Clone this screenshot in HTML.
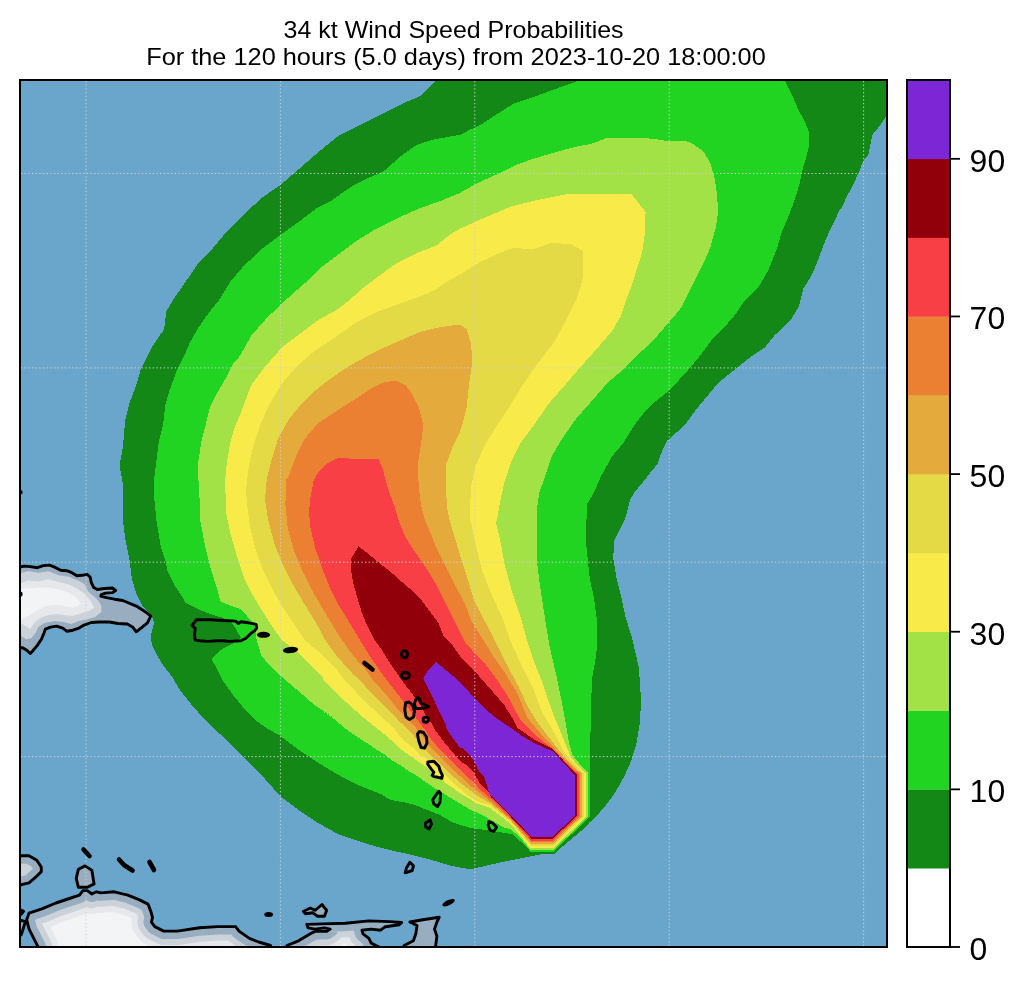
<!DOCTYPE html>
<html><head><meta charset="utf-8"><style>
html,body{margin:0;padding:0;background:#fff;width:1024px;height:984px;overflow:hidden;font-family:"Liberation Sans",sans-serif;-webkit-font-smoothing:antialiased;}
text{will-change:transform;}
</style></head><body>
<svg width="1024" height="984" viewBox="0 0 1024 984" style="position:absolute;left:0;top:0"><defs><clipPath id="m"><rect x="20" y="80" width="867" height="867"/></clipPath><clipPath id="c0"><polygon points="-30.0,567.1 20.0,567.1 24.1,566.1 30.2,566.6 37.3,567.7 43.4,565.6 49.5,565.1 54.6,567.1 60.7,570.2 66.8,570.7 71.9,572.7 76.9,575.8 82.0,575.3 87.1,574.3 90.2,577.3 91.2,582.4 93.7,587.5 97.3,589.5 104.4,588.5 112.5,588.0 115.6,590.5 112.5,592.6 105.4,593.1 101.3,594.6 100.8,596.1 106.4,597.6 114.5,599.2 122.8,600.5 136.3,606.1 145.2,611.7 150.8,616.1 147.4,622.8 141.9,627.3 136.3,631.8 132.9,627.3 127.3,624.0 118.0,623.5 109.5,622.0 99.3,622.0 91.2,622.5 84.1,625.1 79.0,628.1 72.9,630.2 66.8,631.2 62.7,628.1 56.6,626.1 50.5,627.1 45.4,629.1 43.9,633.2 41.4,639.3 37.3,645.4 32.2,651.5 30.2,653.5 27.1,650.5 23.1,648.0 20.0,647.4 -30.0,647.4"/></clipPath><clipPath id="c1"><polygon points="38.0,946.8 33.5,937.8 29.0,928.8 26.7,919.8 29.0,913.1 42.5,908.6 55.9,903.0 69.4,898.5 79.5,895.1 82.9,890.6 87.4,890.6 91.9,894.0 96.4,891.8 100.9,892.9 114.3,891.8 127.8,895.1 139.0,899.6 148.0,904.1 151.4,913.1 152.5,917.6 151.4,922.1 154.8,926.6 163.7,931.1 177.2,931.1 199.7,927.7 217.6,926.6 235.6,926.6 239.0,931.1 249.4,938.4 258.7,942.0 270.5,945.5 275.0,1000.0 40.0,1000.0"/></clipPath><clipPath id="c2"><polygon points="283.0,1000.0 286.9,945.5 298.6,940.8 310.3,933.8 315.0,931.4 326.7,931.4 330.2,929.1 324.4,927.9 315.0,929.1 308.0,927.9 306.8,924.4 322.0,923.9 345.5,923.2 368.9,920.9 390.0,921.6 401.7,922.5 399.4,924.8 385.3,926.7 380.6,930.2 371.2,929.1 361.9,930.2 363.0,933.8 368.9,938.4 371.2,943.1 375.9,945.5 378.3,946.6 380.0,1000.0"/></clipPath><clipPath id="c3"><polygon points="409.9,922.0 422.8,919.7 439.2,917.3 436.9,922.0 434.5,929.1 436.9,936.1 435.7,945.5 436.0,1000.0 404.0,1000.0 404.1,945.5 413.4,940.8 415.8,933.8 417.0,925.5"/></clipPath><clipPath id="c4"><polygon points="-30.0,855.8 20.0,855.8 29.0,855.8 36.8,860.3 41.3,867.1 41.3,871.6 35.7,877.2 29.0,882.8 20.0,885.0 -30.0,885.0"/></clipPath><clipPath id="c5"><polygon points="78.4,869.3 85.1,865.9 91.9,870.4 94.1,883.9 87.4,887.3 78.4,887.3 76.2,878.3"/></clipPath><clipPath id="c6"><polygon points="303.3,911.5 310.3,908.0 315.0,910.3 322.0,904.5 326.7,910.3 324.4,916.2 317.3,916.2 312.7,912.7 305.6,913.8"/></clipPath><clipPath id="c7"><polygon points="-30.0,920.5 21.1,920.5 25.4,921.7 24.0,926.0 22.5,931.0 21.1,935.1 -30.0,935.1"/></clipPath><clipPath id="c8"><polygon points="-30.0,910.1 21.1,910.1 23.5,911.3 21.1,914.4 -30.0,914.4"/></clipPath></defs><g clip-path="url(#m)"><rect x="0" y="0" width="1024" height="984" fill="#6aa6cc"/><polygon points="-30.0,567.1 20.0,567.1 24.1,566.1 30.2,566.6 37.3,567.7 43.4,565.6 49.5,565.1 54.6,567.1 60.7,570.2 66.8,570.7 71.9,572.7 76.9,575.8 82.0,575.3 87.1,574.3 90.2,577.3 91.2,582.4 93.7,587.5 97.3,589.5 104.4,588.5 112.5,588.0 115.6,590.5 112.5,592.6 105.4,593.1 101.3,594.6 100.8,596.1 106.4,597.6 114.5,599.2 122.8,600.5 136.3,606.1 145.2,611.7 150.8,616.1 147.4,622.8 141.9,627.3 136.3,631.8 132.9,627.3 127.3,624.0 118.0,623.5 109.5,622.0 99.3,622.0 91.2,622.5 84.1,625.1 79.0,628.1 72.9,630.2 66.8,631.2 62.7,628.1 56.6,626.1 50.5,627.1 45.4,629.1 43.9,633.2 41.4,639.3 37.3,645.4 32.2,651.5 30.2,653.5 27.1,650.5 23.1,648.0 20.0,647.4 -30.0,647.4" fill="#98adc0"/><polygon points="-30.0,573.2 20.0,573.2 28.2,571.2 38.3,572.7 48.5,571.2 58.7,575.3 68.8,576.8 79.0,580.9 85.1,584.4 88.1,591.5 94.2,596.6 98.3,600.7 101.3,605.8 101.3,611.9 95.2,616.9 88.1,619.0 79.0,621.0 70.8,624.1 63.7,622.0 54.6,621.0 44.4,623.0 38.3,627.1 35.3,633.2 31.2,638.3 26.1,639.3 20.0,635.2 -30.0,635.2" fill="#ccd2da"/><polygon points="-30.0,583.4 20.0,583.4 28.2,580.4 38.3,581.4 48.5,579.3 58.7,581.9 68.8,584.4 77.0,588.5 83.0,592.6 87.1,596.6 91.2,601.7 94.2,607.8 89.1,610.8 82.0,612.9 72.9,615.9 64.7,614.9 56.6,613.9 48.5,614.9 40.4,618.0 34.3,623.0 30.2,629.1 24.1,625.1 20.0,623.0 -30.0,623.0" fill="#e6e8eb"/><polygon points="-30.0,588.5 20.0,588.5 28.2,588.5 38.3,587.5 48.5,587.5 58.7,589.5 68.8,592.6 74.9,596.6 79.0,600.7 81.0,604.7 71.9,607.8 62.7,605.8 53.6,604.7 44.4,606.8 36.3,610.8 28.2,615.9 24.1,618.0 20.0,619.0 -30.0,619.0" fill="#f3f4f6"/><g clip-path="url(#c1)"><polygon points="38.0,946.8 33.5,937.8 29.0,928.8 26.7,919.8 29.0,913.1 42.5,908.6 55.9,903.0 69.4,898.5 79.5,895.1 82.9,890.6 87.4,890.6 91.9,894.0 96.4,891.8 100.9,892.9 114.3,891.8 127.8,895.1 139.0,899.6 148.0,904.1 151.4,913.1 152.5,917.6 151.4,922.1 154.8,926.6 163.7,931.1 177.2,931.1 199.7,927.7 217.6,926.6 235.6,926.6 239.0,931.1 249.4,938.4 258.7,942.0 270.5,945.5 275.0,1000.0 40.0,1000.0" fill="#f3f4f6"/><polygon points="38.0,946.8 33.5,937.8 29.0,928.8 26.7,919.8 29.0,913.1 42.5,908.6 55.9,903.0 69.4,898.5 79.5,895.1 82.9,890.6 87.4,890.6 91.9,894.0 96.4,891.8 100.9,892.9 114.3,891.8 127.8,895.1 139.0,899.6 148.0,904.1 151.4,913.1 152.5,917.6 151.4,922.1 154.8,926.6 163.7,931.1 177.2,931.1 199.7,927.7 217.6,926.6 235.6,926.6 239.0,931.1 249.4,938.4 258.7,942.0 270.5,945.5 275.0,1000.0 40.0,1000.0" fill="none" stroke="#e6e8eb" stroke-width="40" stroke-linejoin="round"/><polygon points="38.0,946.8 33.5,937.8 29.0,928.8 26.7,919.8 29.0,913.1 42.5,908.6 55.9,903.0 69.4,898.5 79.5,895.1 82.9,890.6 87.4,890.6 91.9,894.0 96.4,891.8 100.9,892.9 114.3,891.8 127.8,895.1 139.0,899.6 148.0,904.1 151.4,913.1 152.5,917.6 151.4,922.1 154.8,926.6 163.7,931.1 177.2,931.1 199.7,927.7 217.6,926.6 235.6,926.6 239.0,931.1 249.4,938.4 258.7,942.0 270.5,945.5 275.0,1000.0 40.0,1000.0" fill="none" stroke="#ccd2da" stroke-width="28" stroke-linejoin="round"/><polygon points="38.0,946.8 33.5,937.8 29.0,928.8 26.7,919.8 29.0,913.1 42.5,908.6 55.9,903.0 69.4,898.5 79.5,895.1 82.9,890.6 87.4,890.6 91.9,894.0 96.4,891.8 100.9,892.9 114.3,891.8 127.8,895.1 139.0,899.6 148.0,904.1 151.4,913.1 152.5,917.6 151.4,922.1 154.8,926.6 163.7,931.1 177.2,931.1 199.7,927.7 217.6,926.6 235.6,926.6 239.0,931.1 249.4,938.4 258.7,942.0 270.5,945.5 275.0,1000.0 40.0,1000.0" fill="none" stroke="#98adc0" stroke-width="16" stroke-linejoin="round"/></g><g clip-path="url(#c2)"><polygon points="283.0,1000.0 286.9,945.5 298.6,940.8 310.3,933.8 315.0,931.4 326.7,931.4 330.2,929.1 324.4,927.9 315.0,929.1 308.0,927.9 306.8,924.4 322.0,923.9 345.5,923.2 368.9,920.9 390.0,921.6 401.7,922.5 399.4,924.8 385.3,926.7 380.6,930.2 371.2,929.1 361.9,930.2 363.0,933.8 368.9,938.4 371.2,943.1 375.9,945.5 378.3,946.6 380.0,1000.0" fill="#f3f4f6"/><polygon points="283.0,1000.0 286.9,945.5 298.6,940.8 310.3,933.8 315.0,931.4 326.7,931.4 330.2,929.1 324.4,927.9 315.0,929.1 308.0,927.9 306.8,924.4 322.0,923.9 345.5,923.2 368.9,920.9 390.0,921.6 401.7,922.5 399.4,924.8 385.3,926.7 380.6,930.2 371.2,929.1 361.9,930.2 363.0,933.8 368.9,938.4 371.2,943.1 375.9,945.5 378.3,946.6 380.0,1000.0" fill="none" stroke="#e6e8eb" stroke-width="40" stroke-linejoin="round"/><polygon points="283.0,1000.0 286.9,945.5 298.6,940.8 310.3,933.8 315.0,931.4 326.7,931.4 330.2,929.1 324.4,927.9 315.0,929.1 308.0,927.9 306.8,924.4 322.0,923.9 345.5,923.2 368.9,920.9 390.0,921.6 401.7,922.5 399.4,924.8 385.3,926.7 380.6,930.2 371.2,929.1 361.9,930.2 363.0,933.8 368.9,938.4 371.2,943.1 375.9,945.5 378.3,946.6 380.0,1000.0" fill="none" stroke="#ccd2da" stroke-width="28" stroke-linejoin="round"/><polygon points="283.0,1000.0 286.9,945.5 298.6,940.8 310.3,933.8 315.0,931.4 326.7,931.4 330.2,929.1 324.4,927.9 315.0,929.1 308.0,927.9 306.8,924.4 322.0,923.9 345.5,923.2 368.9,920.9 390.0,921.6 401.7,922.5 399.4,924.8 385.3,926.7 380.6,930.2 371.2,929.1 361.9,930.2 363.0,933.8 368.9,938.4 371.2,943.1 375.9,945.5 378.3,946.6 380.0,1000.0" fill="none" stroke="#98adc0" stroke-width="16" stroke-linejoin="round"/></g><polygon points="409.9,922.0 422.8,919.7 439.2,917.3 436.9,922.0 434.5,929.1 436.9,936.1 435.7,945.5 436.0,1000.0 404.0,1000.0 404.1,945.5 413.4,940.8 415.8,933.8 417.0,925.5" fill="#98adc0"/><g clip-path="url(#c4)"><polygon points="-30.0,855.8 20.0,855.8 29.0,855.8 36.8,860.3 41.3,867.1 41.3,871.6 35.7,877.2 29.0,882.8 20.0,885.0 -30.0,885.0" fill="#f3f4f6"/><polygon points="-30.0,855.8 20.0,855.8 29.0,855.8 36.8,860.3 41.3,867.1 41.3,871.6 35.7,877.2 29.0,882.8 20.0,885.0 -30.0,885.0" fill="none" stroke="#e6e8eb" stroke-width="40" stroke-linejoin="round"/><polygon points="-30.0,855.8 20.0,855.8 29.0,855.8 36.8,860.3 41.3,867.1 41.3,871.6 35.7,877.2 29.0,882.8 20.0,885.0 -30.0,885.0" fill="none" stroke="#ccd2da" stroke-width="28" stroke-linejoin="round"/><polygon points="-30.0,855.8 20.0,855.8 29.0,855.8 36.8,860.3 41.3,867.1 41.3,871.6 35.7,877.2 29.0,882.8 20.0,885.0 -30.0,885.0" fill="none" stroke="#98adc0" stroke-width="16" stroke-linejoin="round"/></g><polygon points="78.4,869.3 85.1,865.9 91.9,870.4 94.1,883.9 87.4,887.3 78.4,887.3 76.2,878.3" fill="#98adc0"/><g clip-path="url(#c6)"><polygon points="303.3,911.5 310.3,908.0 315.0,910.3 322.0,904.5 326.7,910.3 324.4,916.2 317.3,916.2 312.7,912.7 305.6,913.8" fill="#f3f4f6"/><polygon points="303.3,911.5 310.3,908.0 315.0,910.3 322.0,904.5 326.7,910.3 324.4,916.2 317.3,916.2 312.7,912.7 305.6,913.8" fill="none" stroke="#e6e8eb" stroke-width="40" stroke-linejoin="round"/><polygon points="303.3,911.5 310.3,908.0 315.0,910.3 322.0,904.5 326.7,910.3 324.4,916.2 317.3,916.2 312.7,912.7 305.6,913.8" fill="none" stroke="#ccd2da" stroke-width="28" stroke-linejoin="round"/><polygon points="303.3,911.5 310.3,908.0 315.0,910.3 322.0,904.5 326.7,910.3 324.4,916.2 317.3,916.2 312.7,912.7 305.6,913.8" fill="none" stroke="#98adc0" stroke-width="16" stroke-linejoin="round"/></g><polygon points="-30.0,920.5 21.1,920.5 25.4,921.7 24.0,926.0 22.5,931.0 21.1,935.1 -30.0,935.1" fill="#98adc0"/><polygon points="-30.0,910.1 21.1,910.1 23.5,911.3 21.1,914.4 -30.0,914.4" fill="#98adc0"/><polygon points="436.7,80.0 890.0,80.0 890.0,116.3 886.2,116.3 878.9,126.9 872.3,134.8 869.7,148.0 868.3,154.6 863.0,161.2 859.1,171.8 852.5,186.3 845.9,198.2 841.9,208.0 839.9,209.7 831.0,227.6 824.3,243.2 817.6,261.1 813.1,272.3 807.5,282.0 803.2,288.9 798.7,306.8 792.0,318.0 783.1,327.0 774.1,335.9 765.2,347.1 751.8,356.0 740.6,365.0 729.4,373.9 718.3,382.8 707.1,396.3 695.9,409.7 684.7,425.3 666.8,441.0 662.4,449.9 657.9,463.3 648.9,474.5 640.0,485.7 634.4,492.3 630.0,500.0 625.4,517.9 614.3,540.2 613.2,558.1 616.5,578.3 621.0,596.1 625.4,616.3 632.2,638.6 638.9,667.7 641.0,700.0 640.0,722.5 636.5,743.2 631.4,760.5 624.4,776.0 615.8,791.6 607.2,803.7 598.9,813.3 589.5,822.5 582.4,829.8 571.5,838.9 560.5,848.0 555.0,853.5 540.4,854.5 517.3,859.0 500.0,862.5 470.6,869.3 450.9,865.8 427.5,858.8 408.8,854.1 400.0,852.4 376.8,846.8 358.9,841.2 338.7,834.5 318.6,823.3 298.5,809.9 280.6,796.5 262.7,776.4 242.6,756.3 224.7,738.4 209.1,723.8 193.4,707.1 180.0,690.3 172.0,676.5 163.1,665.3 156.4,654.1 151.9,645.2 150.8,636.3 154.1,622.8 151.9,616.1 141.9,605.0 136.3,593.8 131.8,578.1 129.6,560.2 125.1,537.9 122.8,520.0 122.8,501.2 122.8,483.3 119.5,465.4 122.8,447.6 124.0,434.1 125.1,420.7 129.6,402.8 136.3,385.0 140.7,369.3 145.2,360.4 151.9,347.0 164.2,329.1 166.4,311.2 173.0,300.0 186.0,281.2 198.3,263.3 210.6,251.0 226.3,232.0 240.0,218.6 246.4,211.9 262.4,197.4 280.2,185.1 295.9,171.7 313.8,156.0 327.2,144.8 338.4,135.9 351.8,129.2 365.2,122.5 387.6,111.3 405.4,102.4 421.1,95.7 432.3,84.5" fill="#138816" shape-rendering="crispEdges"/><polygon points="580.7,80.0 783.8,80.0 786.4,83.3 791.7,93.9 798.3,109.7 804.9,121.6 809.5,133.5 808.9,146.7 806.2,157.3 802.3,170.5 799.6,183.7 795.7,196.9 791.7,208.0 788.5,216.4 781.8,232.0 777.3,247.7 768.4,270.0 759.4,285.7 754.0,291.2 745.1,300.1 736.1,313.5 722.7,329.2 711.5,340.4 698.1,358.3 684.7,373.9 669.1,390.7 653.4,403.0 644.5,411.9 634.4,425.2 623.2,443.1 612.0,456.5 600.9,476.6 594.1,492.3 587.4,503.5 586.3,522.4 586.3,544.7 589.7,578.3 594.1,598.4 597.5,625.2 596.4,654.3 591.9,678.9 590.8,720.0 590.2,745.0 590.0,772.1 590.0,816.6 553.5,851.9 530.3,851.9 526.9,847.2 518.8,839.9 512.3,834.2 502.5,832.6 486.3,830.2 470.0,827.7 453.4,822.9 438.8,814.4 424.4,808.9 416.3,805.6 408.1,803.2 400.0,801.6 390.0,799.8 381.2,794.3 358.9,785.3 341.0,776.4 318.6,763.0 298.5,749.6 280.6,736.1 265.0,727.2 256.0,720.5 244.8,709.3 233.7,695.9 222.5,680.2 215.8,666.8 211.7,659.2 216.7,653.5 223.1,648.4 233.2,643.3 240.9,638.2 237.0,630.6 232.0,623.0 223.1,617.9 210.4,614.1 197.7,609.0 185.0,602.7 183.2,598.3 174.3,584.8 167.6,571.4 165.3,560.2 160.9,546.8 158.6,533.4 156.4,520.0 154.1,496.8 154.1,478.9 156.4,461.0 158.6,443.1 163.1,425.2 165.3,405.1 169.8,389.4 176.5,371.5 183.2,358.1 189.9,342.5 198.9,326.8 210.0,311.2 219.0,300.0 230.7,281.2 244.1,265.6 262.0,248.8 279.9,235.4 300.0,220.9 317.9,207.4 330.0,201.8 340.6,194.0 354.0,185.1 367.4,178.4 383.1,171.7 401.0,156.0 416.6,144.8 434.5,139.2 441.2,138.1 460.0,134.8 468.9,130.3 482.4,123.6 498.0,113.5 513.7,103.5 527.1,99.0 540.5,94.5 558.4,87.8" fill="#22d422" shape-rendering="crispEdges"/><polygon points="285.8,300.0 289.2,296.9 307.1,281.2 320.5,267.8 338.4,254.4 356.3,241.0 376.4,228.7 396.5,218.6 418.9,208.6 441.2,200.7 460.0,192.9 477.9,182.8 498.0,173.9 515.9,165.0 531.5,159.4 553.9,152.7 574.0,147.1 591.9,143.7 607.6,137.7 621.0,137.7 652.3,138.6 670.2,141.5 685.7,140.8 692.4,143.7 703.5,151.5 710.2,162.7 714.7,178.4 717.0,194.0 718.1,211.9 715.8,227.6 710.2,247.7 703.5,263.3 694.6,281.2 686.8,296.9 680.2,309.1 666.8,324.7 653.4,340.4 636.6,355.9 621.0,371.5 607.6,382.7 594.1,398.4 576.3,418.5 560.6,440.9 551.7,456.5 545.0,476.6 539.4,492.3 537.1,507.9 537.1,529.1 537.1,562.6 540.5,589.4 545.0,618.5 549.4,645.3 556.1,674.4 561.7,701.2 565.1,720.0 569.1,743.2 572.6,755.3 581.2,765.7 588.0,772.5 588.0,816.5 553.4,850.3 530.5,850.3 522.8,840.7 515.5,833.4 510.7,829.5 502.5,826.9 494.4,822.0 486.3,817.2 478.1,813.1 470.7,810.0 465.0,806.5 456.9,801.6 448.8,796.7 440.7,791.8 432.5,786.9 424.4,781.2 416.3,775.5 408.1,770.7 400.0,765.0 391.5,760.0 385.0,754.8 376.9,749.9 368.8,744.2 360.7,739.3 352.5,733.7 344.4,728.0 336.3,720.7 328.1,715.0 320.0,709.7 334.3,718.3 314.2,704.8 296.3,689.2 280.6,675.8 269.4,664.6 261.2,656.0 258.6,645.9 256.1,638.2 256.1,630.6 255.5,624.3 251.0,620.5 240.9,609.0 229.4,605.2 220.5,601.4 216.7,587.1 211.4,571.1 204.9,545.0 200.0,519.0 200.0,505.7 198.9,487.8 197.7,465.4 201.1,443.1 205.6,425.2 210.0,407.3 216.7,393.9 225.7,378.3 232.4,364.8 240.0,355.9 251.2,335.8 266.8,317.9" fill="#a2e246" shape-rendering="crispEdges"/><polygon points="349.6,300.0 363.0,287.9 380.9,274.5 396.5,263.3 418.9,252.2 436.7,245.4 450.2,234.3 460.0,228.7 482.4,218.6 511.4,206.3 533.8,200.7 567.3,194.0 607.6,193.6 631.0,193.6 645.6,211.9 644.5,236.5 642.2,252.2 636.6,270.0 631.0,287.9 626.0,300.0 621.0,315.7 612.0,331.3 596.4,349.2 578.5,369.3 565.1,385.0 549.4,402.8 533.8,425.2 520.4,443.1 511.4,461.0 504.7,481.1 500.2,501.2 496.9,520.0 495.8,522.4 500.2,540.2 504.7,564.8 511.4,589.4 520.4,616.3 527.1,640.9 533.8,661.0 542.7,683.3 551.7,710.0 558.8,727.7 565.7,744.9 570.9,757.0 577.8,765.7 585.9,773.0 585.9,816.4 553.3,848.4 530.6,848.4 510.7,823.7 490.0,808.0 476.4,803.2 470.0,799.1 461.8,794.2 453.7,788.6 445.5,782.8 436.0,775.0 424.4,765.8 416.3,760.1 408.1,754.4 400.0,748.7 394.8,743.4 386.7,736.1 378.5,729.6 370.4,723.1 362.3,716.6 354.1,709.3 346.0,702.0 339.5,696.3 331.4,688.1 323.3,680.0 323.1,678.0 309.7,664.6 296.3,651.2 281.7,640.0 269.9,623.1 261.8,610.1 252.0,593.8 243.9,577.6 237.4,558.0 230.9,535.3 226.0,512.5 225.2,480.0 226.8,463.2 230.2,443.1 234.6,427.4 240.0,415.0 251.2,385.0 264.6,367.1 282.5,347.0 300.4,333.5 318.3,320.1 338.4,308.9" fill="#f8ea48" shape-rendering="crispEdges"/><polygon points="409.9,300.0 418.9,296.9 434.5,290.2 447.9,281.2 460.0,274.5 477.9,263.3 495.8,254.4 513.7,247.7 531.5,249.5 551.7,242.8 571.8,244.3 583.0,251.0 583.0,276.7 579.6,290.2 576.0,300.0 565.1,322.4 553.9,342.5 538.3,362.6 522.6,385.0 509.2,407.3 495.8,427.4 484.6,445.3 475.7,465.4 471.2,485.6 470.1,505.7 470.1,520.0 471.2,522.4 475.7,544.7 482.4,571.5 491.3,593.9 502.5,618.5 511.4,643.1 522.6,667.7 533.8,690.0 542.0,712.0 555.3,734.6 564.0,751.9 572.6,762.2 583.8,773.4 583.8,816.3 553.2,845.9 530.9,845.9 510.7,822.0 490.0,805.0 480.0,802.4 476.4,800.7 470.0,796.7 463.4,791.8 456.9,786.1 450.4,780.4 443.9,773.9 434.0,765.0 424.4,756.8 420.0,755.6 416.3,750.3 408.1,743.8 403.1,740.0 400.0,736.5 394.8,729.6 389.1,723.9 381.8,717.4 375.3,710.9 368.0,704.4 359.8,696.3 352.5,688.1 344.4,680.0 336.5,669.1 320.9,653.4 304.6,640.0 294.3,624.7 284.6,610.1 273.2,590.6 263.4,571.1 255.3,548.3 250.4,528.8 247.2,506.0 246.0,490.0 248.9,465.4 253.4,445.3 260.1,425.2 269.1,405.1 282.5,382.7 295.9,367.1 313.8,351.4 333.9,338.0 356.3,322.4 378.6,311.2" fill="#e4da45" shape-rendering="crispEdges"/><polygon points="460.0,324.6 466.7,329.1 471.2,344.7 472.3,362.6 468.9,385.0 466.7,407.3 462.2,425.2 460.0,431.9 452.4,447.6 445.7,465.4 445.7,487.8 447.5,510.0 449.5,520.0 453.8,534.2 458.1,548.5 462.3,562.7 466.6,575.5 473.4,598.4 484.6,620.7 495.8,643.1 507.0,665.4 518.1,685.6 527.0,705.0 536.3,720.7 546.7,734.6 558.8,750.1 569.1,762.2 582.0,773.7 582.0,816.2 553.1,844.2 531.1,844.2 510.7,820.4 490.0,803.0 480.0,797.5 476.4,795.1 470.0,790.2 463.4,785.3 456.9,779.6 450.4,773.9 446.0,770.0 442.0,765.8 437.1,760.9 432.2,756.4 428.1,752.8 424.1,749.1 417.7,741.0 412.0,733.2 405.5,726.7 400.0,722.3 395.6,717.4 389.1,710.9 381.0,702.8 372.8,694.6 365.5,686.5 359.8,680.0 353.4,674.6 345.2,665.4 336.1,655.2 330.0,647.1 325.2,640.0 315.4,621.5 304.1,603.6 292.7,584.1 282.9,564.6 274.8,545.0 268.3,520.7 265.0,500.0 266.8,478.9 271.3,461.0 278.0,438.6 289.2,418.5 300.4,405.1 313.8,391.7 329.4,379.4 347.3,367.1 365.2,357.0 383.1,348.1 401.0,340.2 418.9,332.4 436.7,327.9 450.2,325.7" fill="#e4aa3c" shape-rendering="crispEdges"/><polygon points="396.5,380.5 405.4,385.0 412.2,393.9 418.9,407.3 423.3,425.2 421.1,443.1 417.7,465.4 418.9,487.8 421.1,505.7 424.9,520.0 431.0,534.2 436.7,548.5 443.8,562.7 450.9,576.9 458.1,591.1 465.2,603.9 471.2,620.7 482.4,638.6 493.5,656.5 504.7,672.2 518.1,694.5 527.5,718.0 541.5,734.6 555.3,749.3 565.7,760.5 580.3,774.1 580.3,816.1 553.0,842.4 531.2,842.4 510.7,819.2 490.0,801.0 480.0,793.0 476.4,790.3 470.7,786.0 465.0,780.5 458.5,774.6 453.3,770.0 450.9,767.4 446.0,762.5 441.1,757.6 436.3,752.8 431.4,747.9 427.3,743.8 420.0,732.4 416.9,729.1 412.0,723.4 406.3,716.9 400.0,711.7 393.2,703.6 386.7,695.4 380.2,688.1 372.8,680.0 366.5,670.6 360.0,663.7 350.3,652.0 343.5,642.0 335.5,630.0 323.6,610.1 312.2,590.6 302.4,571.1 294.3,551.5 287.8,528.8 285.4,504.4 286.2,480.0 289.2,474.4 295.9,456.5 304.8,438.6 318.3,423.0 338.4,409.6 356.3,398.4 369.7,389.4 383.1,382.7" fill="#ec8032" shape-rendering="crispEdges"/><polygon points="338.4,457.6 351.8,458.7 378.6,459.2 383.1,469.9 387.6,487.8 394.3,505.7 398.5,520.0 404.0,534.2 409.7,544.2 419.6,558.4 428.2,571.2 436.7,585.4 443.8,599.7 450.9,613.9 458.1,628.1 465.2,642.4 472.0,650.0 484.6,663.2 498.0,681.1 510.0,700.0 520.4,720.0 534.6,734.6 551.9,748.4 562.2,758.8 578.5,774.4 578.5,816.0 552.9,840.7 531.4,840.7 510.7,818.0 490.0,798.0 480.0,789.4 476.4,785.3 471.5,780.4 465.9,775.5 460.0,770.0 456.6,766.6 451.7,761.7 446.8,756.8 442.0,751.5 437.1,746.3 432.2,740.6 428.1,735.3 425.3,730.0 420.0,723.4 414.5,716.1 408.8,708.8 403.9,702.3 399.0,695.8 393.3,688.5 387.6,681.1 382.0,673.8 377.1,666.5 372.2,660.0 366.8,651.2 360.5,641.0 352.8,628.1 344.2,613.9 337.1,602.5 330.0,588.0 322.0,567.8 315.4,548.3 310.6,528.8 308.9,512.5 310.6,496.3 313.8,480.0 318.3,472.2 327.2,463.2" fill="#f73f45" shape-rendering="crispEdges"/><polygon points="358.5,546.3 367.0,552.7 377.0,561.3 389.8,571.2 401.1,581.2 412.5,591.1 421.1,599.7 429.6,611.1 438.1,622.4 443.8,636.7 452.4,645.2 460.5,656.6 475.7,672.2 491.3,690.0 504.7,705.7 513.7,720.0 517.3,727.7 534.6,739.8 551.9,748.4 557.0,753.6 576.9,774.8 576.9,815.9 552.8,838.7 531.6,838.7 510.7,816.7 491.5,797.5 488.0,791.0 480.0,783.7 477.2,778.8 473.2,771.5 467.5,765.8 460.0,760.9 456.6,756.8 452.5,752.0 447.6,746.3 442.8,740.6 438.3,734.5 435.0,730.0 432.7,725.0 426.0,716.0 420.0,703.9 418.5,702.3 413.7,695.8 408.0,688.5 402.3,681.1 397.4,673.8 392.5,666.5 388.0,660.0 381.3,648.9 374.3,639.7 367.0,625.3 361.3,611.1 357.0,596.8 352.8,581.2 350.6,567.0 351.3,558.4" fill="#91000a" shape-rendering="crispEdges"/><polygon points="436.1,661.8 446.1,670.2 454.0,676.9 460.0,682.0 473.4,696.7 489.1,712.4 500.0,720.7 510.4,727.7 522.5,736.3 536.3,744.1 550.1,750.1 553.6,751.9 574.7,775.2 574.7,815.8 552.7,836.9 531.8,836.9 510.7,815.5 491.1,796.0 489.5,794.4 486.3,783.0 483.8,776.5 478.1,770.0 474.0,760.9 469.1,754.4 463.4,748.7 460.0,747.9 458.2,745.4 454.6,740.6 450.5,734.9 447.2,730.0 445.0,722.7 439.4,711.5 435.0,702.6 430.5,692.5 426.0,683.6 423.2,678.6 428.3,670.2" fill="#7d26d6" shape-rendering="crispEdges"/><line x1="86" y1="81" x2="86" y2="946" stroke="#d0d0d0" stroke-width="1" stroke-dasharray="1.3 2.36"/><line x1="280.4" y1="81" x2="280.4" y2="946" stroke="#d0d0d0" stroke-width="1" stroke-dasharray="1.3 2.36"/><line x1="474.8" y1="81" x2="474.8" y2="946" stroke="#d0d0d0" stroke-width="1" stroke-dasharray="1.3 2.36"/><line x1="669.2" y1="81" x2="669.2" y2="946" stroke="#d0d0d0" stroke-width="1" stroke-dasharray="1.3 2.36"/><line x1="863.6" y1="81" x2="863.6" y2="946" stroke="#d0d0d0" stroke-width="1" stroke-dasharray="1.3 2.36"/><line x1="21" y1="173.5" x2="886" y2="173.5" stroke="#d0d0d0" stroke-width="1" stroke-dasharray="1.3 2.36"/><line x1="21" y1="367.9" x2="886" y2="367.9" stroke="#d0d0d0" stroke-width="1" stroke-dasharray="1.3 2.36"/><line x1="21" y1="562.2" x2="886" y2="562.2" stroke="#d0d0d0" stroke-width="1" stroke-dasharray="1.3 2.36"/><line x1="21" y1="756.6" x2="886" y2="756.6" stroke="#d0d0d0" stroke-width="1" stroke-dasharray="1.3 2.36"/><polygon points="-30.0,567.1 20.0,567.1 24.1,566.1 30.2,566.6 37.3,567.7 43.4,565.6 49.5,565.1 54.6,567.1 60.7,570.2 66.8,570.7 71.9,572.7 76.9,575.8 82.0,575.3 87.1,574.3 90.2,577.3 91.2,582.4 93.7,587.5 97.3,589.5 104.4,588.5 112.5,588.0 115.6,590.5 112.5,592.6 105.4,593.1 101.3,594.6 100.8,596.1 106.4,597.6 114.5,599.2 122.8,600.5 136.3,606.1 145.2,611.7 150.8,616.1 147.4,622.8 141.9,627.3 136.3,631.8 132.9,627.3 127.3,624.0 118.0,623.5 109.5,622.0 99.3,622.0 91.2,622.5 84.1,625.1 79.0,628.1 72.9,630.2 66.8,631.2 62.7,628.1 56.6,626.1 50.5,627.1 45.4,629.1 43.9,633.2 41.4,639.3 37.3,645.4 32.2,651.5 30.2,653.5 27.1,650.5 23.1,648.0 20.0,647.4 -30.0,647.4" fill="none" stroke="#000" stroke-width="2.9" stroke-linejoin="round"/><polygon points="38.0,946.8 33.5,937.8 29.0,928.8 26.7,919.8 29.0,913.1 42.5,908.6 55.9,903.0 69.4,898.5 79.5,895.1 82.9,890.6 87.4,890.6 91.9,894.0 96.4,891.8 100.9,892.9 114.3,891.8 127.8,895.1 139.0,899.6 148.0,904.1 151.4,913.1 152.5,917.6 151.4,922.1 154.8,926.6 163.7,931.1 177.2,931.1 199.7,927.7 217.6,926.6 235.6,926.6 239.0,931.1 249.4,938.4 258.7,942.0 270.5,945.5 275.0,1000.0 40.0,1000.0" fill="none" stroke="#000" stroke-width="2.9" stroke-linejoin="round"/><polygon points="283.0,1000.0 286.9,945.5 298.6,940.8 310.3,933.8 315.0,931.4 326.7,931.4 330.2,929.1 324.4,927.9 315.0,929.1 308.0,927.9 306.8,924.4 322.0,923.9 345.5,923.2 368.9,920.9 390.0,921.6 401.7,922.5 399.4,924.8 385.3,926.7 380.6,930.2 371.2,929.1 361.9,930.2 363.0,933.8 368.9,938.4 371.2,943.1 375.9,945.5 378.3,946.6 380.0,1000.0" fill="none" stroke="#000" stroke-width="2.9" stroke-linejoin="round"/><polygon points="409.9,922.0 422.8,919.7 439.2,917.3 436.9,922.0 434.5,929.1 436.9,936.1 435.7,945.5 436.0,1000.0 404.0,1000.0 404.1,945.5 413.4,940.8 415.8,933.8 417.0,925.5" fill="none" stroke="#000" stroke-width="2.9" stroke-linejoin="round"/><polygon points="-30.0,855.8 20.0,855.8 29.0,855.8 36.8,860.3 41.3,867.1 41.3,871.6 35.7,877.2 29.0,882.8 20.0,885.0 -30.0,885.0" fill="none" stroke="#000" stroke-width="2.9" stroke-linejoin="round"/><polygon points="78.4,869.3 85.1,865.9 91.9,870.4 94.1,883.9 87.4,887.3 78.4,887.3 76.2,878.3" fill="none" stroke="#000" stroke-width="2.9" stroke-linejoin="round"/><polygon points="303.3,911.5 310.3,908.0 315.0,910.3 322.0,904.5 326.7,910.3 324.4,916.2 317.3,916.2 312.7,912.7 305.6,913.8" fill="none" stroke="#000" stroke-width="2.9" stroke-linejoin="round"/><polygon points="-30.0,920.5 21.1,920.5 25.4,921.7 24.0,926.0 22.5,931.0 21.1,935.1 -30.0,935.1" fill="none" stroke="#000" stroke-width="2.9" stroke-linejoin="round"/><polygon points="-30.0,910.1 21.1,910.1 23.5,911.3 21.1,914.4 -30.0,914.4" fill="none" stroke="#000" stroke-width="2.9" stroke-linejoin="round"/><polygon points="192.0,625.5 196.4,619.8 210.4,619.8 223.1,620.5 235.8,621.1 238.3,623.6 240.9,621.7 248.5,622.8 256.1,624.3 256.7,628.1 254.8,630.6 251.0,633.2 245.9,638.2 240.9,640.8 229.4,641.4 223.1,640.8 216.7,640.8 207.9,641.4 200.2,640.8 195.2,640.1 194.5,634.4 195.2,628.1" fill="none" stroke="#000" stroke-width="2.9" stroke-linejoin="round"/><polygon points="405.5,703.0 409.0,702.0 412.5,705.0 414.5,711.0 413.5,717.0 409.5,719.5 406.0,717.0 404.8,710.0" fill="none" stroke="#000" stroke-width="2.9" stroke-linejoin="round"/><polygon points="414.3,704.0 416.5,697.5 419.5,698.5 420.5,703.0 428.5,706.5 421.0,708.5 416.0,708.5" fill="none" stroke="#000" stroke-width="2.9" stroke-linejoin="round"/><polygon points="419.5,731.5 423.5,732.5 426.5,737.0 427.0,743.0 424.5,748.2 421.0,747.5 418.5,740.0 417.5,734.0" fill="none" stroke="#000" stroke-width="2.9" stroke-linejoin="round"/><polygon points="427.8,762.0 433.9,761.3 438.8,766.2 440.0,770.5 442.4,775.4 441.8,778.4 437.6,777.2 433.9,776.6 432.1,775.4 433.9,772.3 431.5,769.3 427.8,764.4" fill="none" stroke="#000" stroke-width="2.9" stroke-linejoin="round"/><polygon points="438.8,791.2 440.6,793.7 440.0,802.2 437.6,806.5 433.9,804.0 432.7,799.8 435.1,796.1" fill="none" stroke="#000" stroke-width="2.9" stroke-linejoin="round"/><polygon points="430.2,819.9 431.5,824.1 429.0,829.0 425.4,826.6 425.4,822.9" fill="none" stroke="#000" stroke-width="2.9" stroke-linejoin="round"/><polygon points="488.8,821.7 492.4,822.9 496.7,827.2 493.7,831.5 490.0,830.2 488.2,825.4" fill="none" stroke="#000" stroke-width="2.9" stroke-linejoin="round"/><polygon points="409.9,862.3 413.4,865.8 412.3,870.5 405.2,872.8 406.4,868.1" fill="none" stroke="#000" stroke-width="2.9" stroke-linejoin="round"/><ellipse cx="404.5" cy="654.2" rx="3.0" ry="3.6" transform="rotate(0 404.5 654.2)" fill="none" stroke="#000" stroke-width="2.9" stroke-linejoin="round"/><ellipse cx="405.3" cy="675.5" rx="4.0" ry="3.3" transform="rotate(0 405.3 675.5)" fill="none" stroke="#000" stroke-width="2.9" stroke-linejoin="round"/><ellipse cx="425.7" cy="719.7" rx="2.6" ry="2.6" transform="rotate(0 425.7 719.7)" fill="none" stroke="#000" stroke-width="2.9" stroke-linejoin="round"/><ellipse cx="20.3" cy="492.3" rx="2.3" ry="2.4" transform="rotate(0 20.3 492.3)" fill="#000"/><ellipse cx="263.5" cy="634.8" rx="6.6" ry="3.0" transform="rotate(0 263.5 634.8)" fill="#000"/><ellipse cx="290.5" cy="650" rx="7.6" ry="3.1" transform="rotate(-5 290.5 650)" fill="#000"/><ellipse cx="448.6" cy="902.7" rx="6.8" ry="2.6" transform="rotate(-25 448.6 902.7)" fill="#000"/><ellipse cx="268.7" cy="914.4" rx="4.4" ry="2.5" transform="rotate(0 268.7 914.4)" fill="#000"/><ellipse cx="21" cy="594" rx="1.6" ry="2.6" transform="rotate(0 21 594)" fill="#000"/><polyline points="364.5,663.0 372.5,669.5" fill="none" stroke="#000" stroke-width="4.6" stroke-linecap="round" stroke-linejoin="round"/><polyline points="83.5,849.5 89.5,856.0" fill="none" stroke="#000" stroke-width="4.6" stroke-linecap="round" stroke-linejoin="round"/><polyline points="119.0,859.5 124.0,865.0 132.5,870.5" fill="none" stroke="#000" stroke-width="4.6" stroke-linecap="round" stroke-linejoin="round"/><polyline points="149.5,862.0 154.0,870.0" fill="none" stroke="#000" stroke-width="4.6" stroke-linecap="round" stroke-linejoin="round"/></g><rect x="20" y="80" width="867" height="867" fill="none" stroke="#000" stroke-width="2"/><rect x="907" y="868.18" width="43" height="79.12" fill="#ffffff"/><rect x="907" y="789.36" width="43" height="79.12" fill="#138816"/><rect x="907" y="710.55" width="43" height="79.12" fill="#22d422"/><rect x="907" y="631.73" width="43" height="79.12" fill="#a2e246"/><rect x="907" y="552.91" width="43" height="79.12" fill="#f8ea48"/><rect x="907" y="474.09" width="43" height="79.12" fill="#e4da45"/><rect x="907" y="395.27" width="43" height="79.12" fill="#e4aa3c"/><rect x="907" y="316.45" width="43" height="79.12" fill="#ec8032"/><rect x="907" y="237.64" width="43" height="79.12" fill="#f73f45"/><rect x="907" y="158.82" width="43" height="79.12" fill="#91000a"/><rect x="907" y="80.00" width="43" height="79.12" fill="#7d26d6"/><rect x="907" y="80" width="43" height="867" fill="none" stroke="#000" stroke-width="2"/><line x1="950" y1="947.00" x2="960" y2="947.00" stroke="#000" stroke-width="1.8"/><text x="969.6" y="960.00" font-family="Liberation Sans" font-size="30.5" textLength="17.8" lengthAdjust="spacingAndGlyphs" fill="#000">0</text><line x1="950" y1="789.36" x2="960" y2="789.36" stroke="#000" stroke-width="1.8"/><text x="969.6" y="802.36" font-family="Liberation Sans" font-size="30.5" textLength="35.6" lengthAdjust="spacingAndGlyphs" fill="#000">10</text><line x1="950" y1="631.73" x2="960" y2="631.73" stroke="#000" stroke-width="1.8"/><text x="969.6" y="644.73" font-family="Liberation Sans" font-size="30.5" textLength="35.6" lengthAdjust="spacingAndGlyphs" fill="#000">30</text><line x1="950" y1="474.09" x2="960" y2="474.09" stroke="#000" stroke-width="1.8"/><text x="969.6" y="487.09" font-family="Liberation Sans" font-size="30.5" textLength="35.6" lengthAdjust="spacingAndGlyphs" fill="#000">50</text><line x1="950" y1="316.45" x2="960" y2="316.45" stroke="#000" stroke-width="1.8"/><text x="969.6" y="329.45" font-family="Liberation Sans" font-size="30.5" textLength="35.6" lengthAdjust="spacingAndGlyphs" fill="#000">70</text><line x1="950" y1="158.82" x2="960" y2="158.82" stroke="#000" stroke-width="1.8"/><text x="969.6" y="171.82" font-family="Liberation Sans" font-size="30.5" textLength="35.6" lengthAdjust="spacingAndGlyphs" fill="#000">90</text><text x="283.6" y="37.8" font-family="Liberation Sans" font-size="23.6" textLength="340" lengthAdjust="spacingAndGlyphs" fill="#000">34 kt Wind Speed Probabilities</text><text x="146.2" y="64.7" font-family="Liberation Sans" font-size="23.6" textLength="619.6" lengthAdjust="spacingAndGlyphs" fill="#000">For the 120 hours (5.0 days) from 2023-10-20 18:00:00</text></svg>
</body></html>
